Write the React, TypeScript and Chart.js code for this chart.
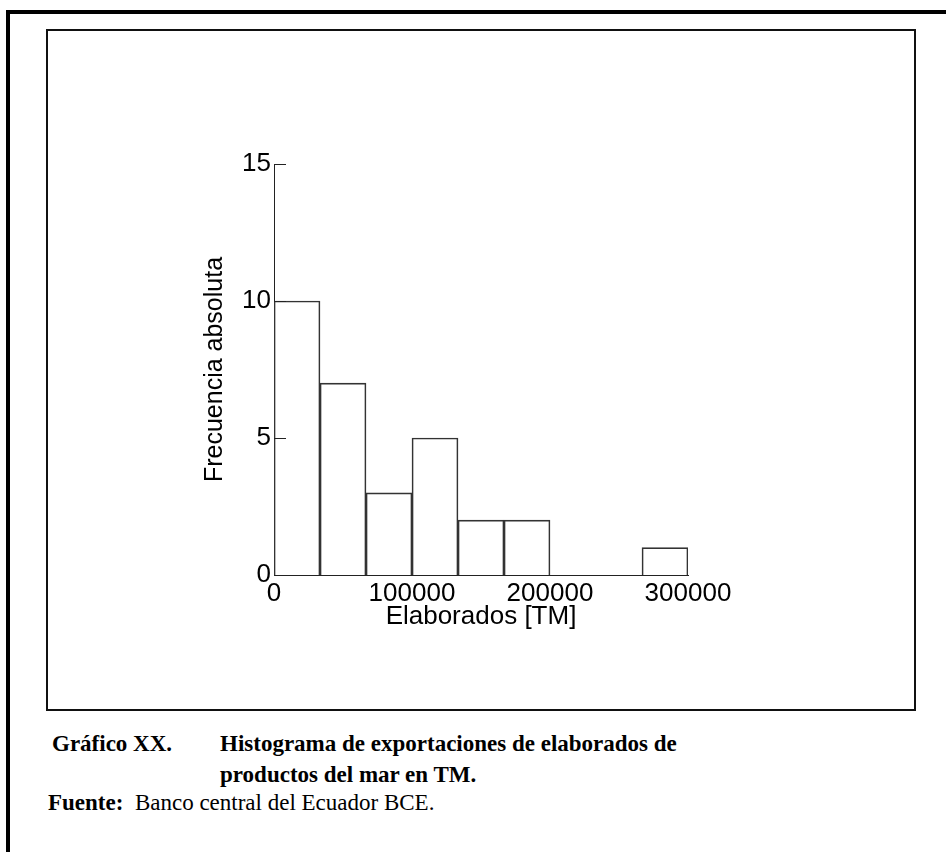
import React, { useEffect, useRef } from "react";
import { Chart, registerables } from "chart.js";

Chart.register(...registerables);

// ---- data ----
const binLabels = [
  "0-33333",
  "33333-66667",
  "66667-100000",
  "100000-133333",
  "133333-166667",
  "166667-200000",
  "200000-233333",
  "233333-266667",
  "266667-300000",
];
const frequencies = [10, 7, 3, 5, 2, 2, 0, 0, 1];
const xTickValues = [0, 100000, 200000, 300000];
const yTickValues = [0, 5, 10, 15];
const xTitle = "Elaborados [TM]";
const yTitle = "Frecuencia absoluta";

const SANS = "'Liberation Sans', Arial, sans-serif";
const SERIF = "'Liberation Serif', 'Times New Roman', serif";

const CANVAS_W = 868;
const CANVAS_H = 681;

const inwardTicks = {
  id: "inwardTicks",
  afterDraw(chart: any) {
    const { ctx, chartArea } = chart;
    const y = chart.scales.y;
    ctx.save();
    ctx.strokeStyle = "#222";
    ctx.lineWidth = 1;
    yTickValues.forEach((v) => {
      const py = Math.round(y.getPixelForValue(v)) + 0.5;
      ctx.beginPath();
      ctx.moveTo(chartArea.left, py);
      ctx.lineTo(chartArea.left + 12, py);
      ctx.stroke();
    });
    ctx.restore();
  },
};

function Histogram() {
  const ref = useRef<HTMLCanvasElement | null>(null);
  useEffect(() => {
    if (!ref.current) return;
    const chart = new Chart(ref.current, {
      type: "bar",
      data: {
        labels: binLabels,
        datasets: [
          {
            data: frequencies,
            backgroundColor: "rgba(255,255,255,0)",
            borderColor: "#333",
            borderWidth: 1,
            barPercentage: 1,
            categoryPercentage: 1,
            xAxisID: "x",
          },
        ],
      },
      options: {
        responsive: false,
        animation: false,
        events: [],
        layout: { padding: { left: 127, right: 227, top: 135, bottom: 60 } },
        plugins: { legend: { display: false }, tooltip: { enabled: false } },
        scales: {
          x: { type: "category", display: false, offset: true },
          x2: {
            type: "linear",
            position: "bottom",
            min: 0,
            max: 300000,
            offset: false,
            afterFit: (s: any) => {
              s.height = 75;
            },
            afterBuildTicks: (s: any) => {
              s.ticks = xTickValues.map((v) => ({ value: v }));
            },
            grid: { display: false, drawTicks: false, offset: false },
            border: { display: true, color: "#222", width: 1 },
            ticks: {
              color: "#000",
              padding: 3,
              maxRotation: 0,
              font: { family: SANS, size: 26 },
              callback: (v: any) => String(v),
            },
            title: {
              display: true,
              text: xTitle,
              color: "#000",
              font: { family: SANS, size: 26 },
              padding: { top: 0, bottom: 18 },
            },
          },
          y: {
            type: "linear",
            min: 0,
            max: 15,
            afterFit: (s: any) => {
              s.width = 100;
            },
            afterBuildTicks: (s: any) => {
              s.ticks = yTickValues.map((v) => ({ value: v }));
            },
            grid: { display: false, drawTicks: false },
            border: { display: true, color: "#222", width: 1 },
            ticks: {
              color: "#000",
              padding: 3,
              font: { family: SANS, size: 26 },
            },
            title: {
              display: true,
              text: yTitle,
              color: "#000",
              font: { family: SANS, size: 25 },
              padding: { top: 26, bottom: 0 },
            },
          },
        },
      },
      plugins: [inwardTicks],
    });
    return () => chart.destroy();
  }, []);
  return (
    <canvas
      ref={ref}
      width={CANVAS_W}
      height={CANVAS_H}
      style={{ position: "absolute", left: 47, top: 29, width: CANVAS_W, height: CANVAS_H }}
    />
  );
}

export default function App() {
  const cap: React.CSSProperties = {
    position: "absolute",
    fontFamily: SERIF,
    fontSize: 23,
    lineHeight: "23px",
    color: "#000",
    whiteSpace: "nowrap",
  };
  return (
    <div
      style={{
        position: "absolute",
        left: 0,
        top: 0,
        width: 946,
        height: 852,
        background: "#fff",
        overflow: "hidden",
      }}
    >
      <div
        style={{
          position: "absolute",
          left: 6,
          top: 10,
          width: 960,
          height: 900,
          borderTop: "4px solid #000",
          borderLeft: "4px solid #000",
        }}
      />
      <div
        style={{
          position: "absolute",
          left: 46,
          top: 29,
          width: 870,
          height: 682,
          border: "2px solid #111",
          boxSizing: "border-box",
        }}
      />
      <Histogram />
      <div style={{ ...cap, left: 52, top: 732, fontWeight: "bold" }}>Gráfico XX.</div>
      <div style={{ ...cap, left: 220, top: 732, fontWeight: "bold" }}>
        Histograma de exportaciones de elaborados de
      </div>
      <div style={{ ...cap, left: 220, top: 763, fontWeight: "bold" }}>productos del mar en TM.</div>
      <div style={{ ...cap, left: 48, top: 791 }}>
        <b>Fuente:</b>&nbsp; Banco central del Ecuador BCE.
      </div>
    </div>
  );
}
